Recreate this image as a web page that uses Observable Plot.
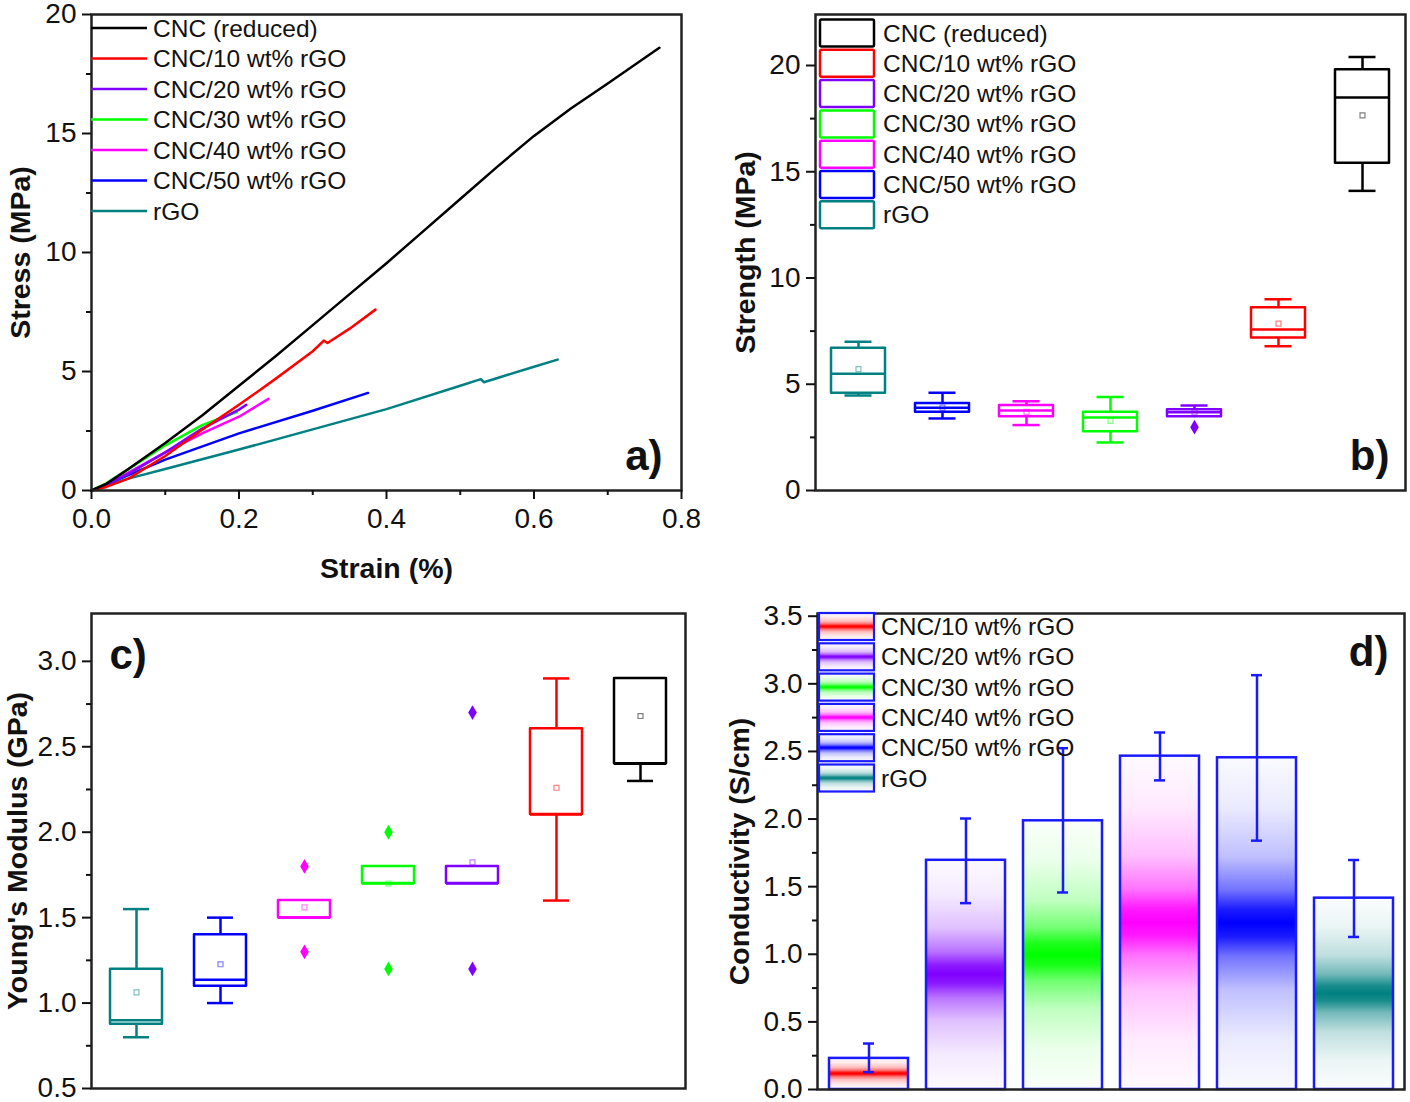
<!DOCTYPE html>
<html><head><meta charset="utf-8">
<script src="https://cdn.jsdelivr.net/npm/d3@7"></script>
<script src="https://cdn.jsdelivr.net/npm/@observablehq/plot@0.6"></script>
<style>
html,body{margin:0;padding:0;background:#fff;overflow:hidden}
#wrap{position:relative;width:1410px;height:1102px;background:#fff}
#wrap > svg{position:absolute}
</style></head><body><div id="wrap"></div>
<script>
const FONT = "'Liberation Sans', Arial, Helvetica, sans-serif";

// ---------- Panel a: stress-strain curves ----------
const seriesNames = ["CNC (reduced)", "CNC/10 wt% rGO", "CNC/20 wt% rGO", "CNC/30 wt% rGO", "CNC/40 wt% rGO", "CNC/50 wt% rGO", "rGO"];
const seriesColors = ["#000000", "#ff0000", "#8000ff", "#00ff00", "#ff00ff", "#0000ff", "#008080"];

const strainCNC = [0, 0.02, 0.05, 0.1, 0.15, 0.2, 0.25, 0.3, 0.35, 0.4, 0.45, 0.5, 0.55, 0.6, 0.65, 0.7, 0.77];
const stressCNC = [0, 0.28, 0.9, 2.0, 3.15, 4.4, 5.65, 6.95, 8.25, 9.55, 10.9, 12.25, 13.6, 14.9, 16.05, 17.1, 18.6];
const strain10 = [0, 0.02, 0.05, 0.1, 0.15, 0.2, 0.25, 0.3, 0.315, 0.32, 0.35, 0.385];
const stress10 = [0, 0.15, 0.5, 1.45, 2.55, 3.6, 4.7, 5.85, 6.3, 6.2, 6.8, 7.6];
const strain20 = [0, 0.02, 0.05, 0.1, 0.15, 0.2, 0.21];
const stress20 = [0, 0.25, 0.7, 1.6, 2.6, 3.4, 3.6];
const strain30 = [0, 0.02, 0.05, 0.1, 0.15, 0.197];
const stress30 = [0, 0.3, 0.9, 1.9, 2.75, 3.3];
const strain40 = [0, 0.02, 0.05, 0.1, 0.15, 0.2, 0.24];
const stress40 = [0, 0.25, 0.75, 1.6, 2.4, 3.1, 3.85];
const strain50 = [0, 0.02, 0.05, 0.1, 0.2, 0.3, 0.375];
const stress50 = [0, 0.25, 0.65, 1.3, 2.4, 3.35, 4.1];
const strainRGO = [0, 0.02, 0.05, 0.1, 0.2, 0.3, 0.4, 0.5, 0.528, 0.532, 0.6, 0.632];
const stressRGO = [0, 0.2, 0.5, 0.9, 1.72, 2.57, 3.42, 4.4, 4.68, 4.55, 5.2, 5.5];

const strainTicks = [0, 0.2, 0.4, 0.6, 0.8];
const strainMinor = [0.1, 0.3, 0.5, 0.7];
const stressTicks = [0, 5, 10, 15, 20];
const stressMinor = [2.5, 7.5, 12.5, 17.5];

// ---------- Panel b: strength box plots ----------
const boxCats = ["rGO", "CNC/50 wt% rGO", "CNC/40 wt% rGO", "CNC/30 wt% rGO", "CNC/20 wt% rGO", "CNC/10 wt% rGO", "CNC (reduced)"];
const boxColors = ["#008080", "#0000ff", "#ff00ff", "#00ff00", "#8000ff", "#ff0000", "#000000"];
const strLo   = [4.47, 3.39, 3.08, 2.26, 3.47, 6.79, 14.1];
const strQ1   = [4.58, 3.68, 3.47, 2.76, 3.47, 7.18, 15.4];
const strMed  = [5.5, 3.9, 3.76, 3.43, 3.68, 7.58, 18.5];
const strQ3   = [6.7, 4.1, 4.0, 3.68, 3.8, 8.6, 19.8];
const strHi   = [7.0, 4.6, 4.2, 4.4, 4.0, 9.0, 20.4];
const strMean = [5.71, 3.9, 3.7, 3.28, 3.68, 7.85, 17.65];
const strOutCat = ["CNC/20 wt% rGO"];
const strOutVal = [2.98];
const strengthTicks = [0, 5, 10, 15, 20];
const strengthMinor = [2.5, 7.5, 12.5, 17.5];

// ---------- Panel c: Young's modulus box plots ----------
const modLo   = [0.8, 1.0, 1.5, 1.7, 1.7, 1.6, 2.3];
const modQ1   = [0.876, 1.098, 1.5, 1.7, 1.7, 2.104, 2.4];
const modMed  = [0.9, 1.136, 1.5, 1.7, 1.7, 2.104, 2.4];
const modQ3   = [1.198, 1.4, 1.6, 1.8, 1.8, 2.605, 2.9];
const modHi   = [1.55, 1.5, 1.6, 1.8, 1.8, 2.9, 2.9];
const modMean = [1.063, 1.227, 1.56, 1.70, 1.824, 2.26, 2.68];
const modOutCat = ["CNC/40 wt% rGO", "CNC/40 wt% rGO", "CNC/30 wt% rGO", "CNC/30 wt% rGO", "CNC/20 wt% rGO", "CNC/20 wt% rGO"];
const modOutVal = [1.8, 1.3, 2.0, 1.2, 2.7, 1.2];
const modTicks = [0.5, 1.0, 1.5, 2.0, 2.5, 3.0];
const modMinor = [0.75, 1.25, 1.75, 2.25, 2.75];

// ---------- Panel d: conductivity bars ----------
const condCats = ["CNC/10 wt% rGO", "CNC/20 wt% rGO", "CNC/30 wt% rGO", "CNC/40 wt% rGO", "CNC/50 wt% rGO", "rGO"];
const condColors = ["#ff0000", "#8000ff", "#00ff00", "#ff00ff", "#0000ff", "#008080"];
const condVal = [0.23, 1.695, 1.987, 2.465, 2.453, 1.415];
const condErrHi = [0.34, 2.004, 2.524, 2.64, 3.064, 1.697];
const condErrLo = [0.128, 1.378, 1.457, 2.286, 1.84, 1.128];
const condTicks = [0, 0.5, 1.0, 1.5, 2.0, 2.5, 3.0, 3.5];
const condMinor = [0.25, 0.75, 1.25, 1.75, 2.25, 2.75, 3.25];

// ================= helpers =================
const wrap = document.getElementById("wrap");
const f1 = d3.format(".1f");
const TICKFS = 28;
const AX = {stroke: "#111", strokeWidth: 2, fontSize: TICKFS, fill: "#111", label: null};
const TITLE = {fontWeight: "bold", fontSize: 28.5, fill: "#111"};
const PANEL = {fontWeight: "bold", fontSize: 42, fill: "#111", lineAnchor: "middle"};
const blank = () => "";

function yAxes(major, minor, fmt) {
  return [
    Plot.axisY(major, {...AX, tickSize: 9, tickFormat: blank}),
    Plot.axisY(minor, {...AX, tickSize: 5, tickFormat: blank}),
    Plot.axisY(major, {...AX, tickSize: 0, tickPadding: 15, tickFormat: fmt})
  ];
}
function xAxes(major, minor, fmt) {
  return [
    Plot.axisX(major, {...AX, tickSize: 9, tickFormat: blank}),
    Plot.axisX(minor, {...AX, tickSize: 5, tickFormat: blank}),
    Plot.axisX(major, {...AX, tickSize: 0, tickPadding: 18, tickFormat: fmt})
  ];
}
function yTitle(t, dx) {
  return Plot.text([t], {...TITLE, frameAnchor: "left", textAnchor: "middle", lineAnchor: "middle", rotate: -90, dx});
}

function place(svg, left, top) {
  svg.style.left = left + "px";
  svg.style.top = top + "px";
  wrap.appendChild(svg);
}

function boxRows(lo, q1, med, q3, hi, mean) {
  return boxCats.map((c, i) => ({cat: c, color: boxColors[i], lo: lo[i], q1: q1[i], med: med[i], q3: q3[i], hi: hi[i], mean: mean[i]}));
}

function boxMarks(rows, outliers, boxInset, capInset) {
  const up = rows.filter(d => d.hi > d.q3);
  const dn = rows.filter(d => d.lo < d.q1);
  const sw = 2.5;
  return [
    Plot.ruleX(up, {x: "cat", y1: "q3", y2: "hi", stroke: "color", strokeWidth: sw}),
    Plot.ruleX(dn, {x: "cat", y1: "lo", y2: "q1", stroke: "color", strokeWidth: sw}),
    Plot.tickY(up, {x: "cat", y: "hi", stroke: "color", strokeWidth: sw, insetLeft: capInset, insetRight: capInset}),
    Plot.tickY(dn, {x: "cat", y: "lo", stroke: "color", strokeWidth: sw, insetLeft: capInset, insetRight: capInset}),
    Plot.barY(rows, {x: "cat", y1: "q1", y2: "q3", fill: "none", stroke: "color", strokeWidth: sw, strokeLinejoin: "round", insetLeft: boxInset, insetRight: boxInset}),
    Plot.tickY(rows, {x: "cat", y: "med", stroke: "color", strokeWidth: sw, insetLeft: boxInset, insetRight: boxInset}),
    Plot.dot(rows, {x: "cat", y: "mean", symbol: "square", r: 2.8, fill: "none", stroke: "color", strokeOpacity: 0.5, strokeWidth: 1.2}),
    Plot.dot(outliers, {x: "cat", y: "v", symbol: "diamond", r: 4.5, fill: "color", stroke: "none"})
  ];
}
function legendGroup(svg) {
  return d3.select(svg).append("g").attr("font-family", FONT).attr("font-size", 24.5).attr("fill", "#111").attr("text-anchor", "start");
}

// ================= Panel a =================
const strains = [strainCNC, strain10, strain20, strain30, strain40, strain50, strainRGO];
const stresses = [stressCNC, stress10, stress20, stress30, stress40, stress50, stressRGO];
const curveOrder = [6, 5, 4, 3, 2, 1, 0];
const curves = curveOrder.flatMap(i => strains[i].map((x, j) => ({series: seriesNames[i], color: seriesColors[i], strain: x, stress: stresses[i][j]})));

const plotA = Plot.plot({
  width: 705, height: 590, marginLeft: 91, marginRight: 24, marginTop: 14, marginBottom: 100,
  style: {fontFamily: FONT, background: "transparent", color: "#111", overflow: "visible"},
  x: {domain: [0, 0.8]}, y: {domain: [0, 20]},
  color: {type: "identity"},
  marks: [
    Plot.line(curves, {x: "strain", y: "stress", z: "series", stroke: "color", strokeWidth: 2.5, strokeLinejoin: "round"}),
    Plot.frame({stroke: "#222", strokeWidth: 2.5}),
    ...xAxes(strainTicks, strainMinor, f1),
    ...yAxes(stressTicks, stressMinor, d3.format("d")),
    Plot.text(["Strain (%)"], {...TITLE, frameAnchor: "bottom", textAnchor: "middle", lineAnchor: "middle", dy: 78}),
    yTitle("Stress (MPa)", -71),
    Plot.text(["a)"], {...PANEL, frameAnchor: "bottom-right", textAnchor: "end", dx: -19, dy: -34})
  ]
});
{
  const g = legendGroup(plotA);
  seriesNames.forEach((n, i) => {
    const y = 28 + i * 30.5;
    g.append("line").attr("x1", 91).attr("x2", 147).attr("y1", y).attr("y2", y).attr("stroke", seriesColors[i]).attr("stroke-width", 2.5);
    g.append("text").attr("x", 153).attr("y", y).attr("dy", "0.35em").text(n);
  });
}
place(plotA, 0, 0);

// ================= Panel b =================
const rowsB = boxRows(strLo, strQ1, strMed, strQ3, strHi, strMean);
const outB = strOutCat.map((c, i) => ({cat: c, v: strOutVal[i], color: boxColors[boxCats.indexOf(c)]}));
const plotB = Plot.plot({
  width: 705, height: 590, marginLeft: 110, marginRight: 5, marginTop: 14, marginBottom: 100,
  style: {fontFamily: FONT, background: "transparent", color: "#111", overflow: "visible"},
  x: {type: "band", domain: boxCats, padding: 0, axis: null},
  y: {domain: [0, 22.4]},
  color: {type: "identity"},
  marks: [
    ...boxMarks(rowsB, outB, 15, 28.5),
    Plot.frame({stroke: "#222", strokeWidth: 2.5}),
    ...yAxes(strengthTicks, strengthMinor, d3.format("d")),
    yTitle("Strength (MPa)", -70),
    Plot.text(["b)"], {...PANEL, frameAnchor: "bottom-right", textAnchor: "end", dx: -16, dy: -34})
  ]
});
{
  const legOrder = ["CNC (reduced)", "CNC/10 wt% rGO", "CNC/20 wt% rGO", "CNC/30 wt% rGO", "CNC/40 wt% rGO", "CNC/50 wt% rGO", "rGO"];
  const g = legendGroup(plotB);
  legOrder.forEach((n, i) => {
    const y = 33 + i * 30.3;
    const col = boxColors[boxCats.indexOf(n)];
    g.append("rect").attr("x", 115).attr("y", y - 13.5).attr("width", 54).attr("height", 27).attr("fill", "none").attr("stroke", col).attr("stroke-width", 2.5).attr("rx", 1.5);
    g.append("text").attr("x", 178).attr("y", y).attr("dy", "0.35em").text(n);
  });
}
place(plotB, 705, 0);

// ================= Panel c =================
const rowsC = boxRows(modLo, modQ1, modMed, modQ3, modHi, modMean);
const outC = modOutCat.map((c, i) => ({cat: c, v: modOutVal[i], color: boxColors[boxCats.indexOf(c)]}));
const plotC = Plot.plot({
  width: 705, height: 512, marginLeft: 91, marginRight: 20, marginTop: 23, marginBottom: 14,
  style: {fontFamily: FONT, background: "transparent", color: "#111", overflow: "visible"},
  x: {type: "band", domain: boxCats, padding: 0, axis: null},
  y: {domain: [0.5, 3.28]},
  color: {type: "identity"},
  marks: [
    ...boxMarks(rowsC, outC, 16, 29),
    Plot.frame({stroke: "#222", strokeWidth: 2.5}),
    ...yAxes(modTicks, modMinor, f1),
    yTitle("Young's Modulus (GPa)", -74),
    Plot.text(["c)"], {...PANEL, frameAnchor: "top-left", textAnchor: "start", dx: 18, dy: 42})
  ]
});
place(plotC, 0, 590);

// ================= Panel d =================
const barRows = condCats.map((c, i) => ({cat: c, v: condVal[i], hi: condErrHi[i], lo: condErrLo[i], fill: `url(#cgrad${i})`}));
const BLUE = "#1a1aff";
const plotD = Plot.plot({
  width: 705, height: 512, marginLeft: 112, marginRight: 6, marginTop: 23, marginBottom: 13,
  style: {fontFamily: FONT, background: "transparent", color: "#111", overflow: "visible"},
  x: {type: "band", domain: condCats, padding: 0, axis: null},
  y: {domain: [0, 3.52]},
  color: {type: "identity"},
  marks: [
    Plot.barY(barRows, {x: "cat", y: "v", fill: "fill", stroke: BLUE, strokeWidth: 2.5, insetLeft: 9, insetRight: 9}),
    Plot.ruleX(barRows, {x: "cat", y1: "lo", y2: "hi", stroke: BLUE, strokeWidth: 2.5}),
    Plot.tickY(barRows, {x: "cat", y: "hi", stroke: BLUE, strokeWidth: 2.5, insetLeft: 43, insetRight: 43}),
    Plot.tickY(barRows, {x: "cat", y: "lo", stroke: BLUE, strokeWidth: 2.5, insetLeft: 43, insetRight: 43}),
    Plot.frame({stroke: "#222", strokeWidth: 2.5}),
    ...yAxes(condTicks, condMinor, f1),
    yTitle("Conductivity (S/cm)", -78),
    Plot.text(["d)"], {...PANEL, frameAnchor: "top-right", textAnchor: "end", dx: -16, dy: 39})
  ]
});
{
  const svg = d3.select(plotD);
  const defs = svg.insert("defs", ":first-child");
  const stops = [[0, 0.02], [0.15, 0.08], [0.3, 0.25], [0.4, 0.55], [0.46, 0.9], [0.5, 1], [0.54, 0.9], [0.6, 0.55], [0.7, 0.25], [0.85, 0.08], [1, 0.02]];
  condColors.forEach((col, i) => {
    const lg = defs.append("linearGradient").attr("id", `cgrad${i}`).attr("x1", 0).attr("y1", 0).attr("x2", 0).attr("y2", 1);
    stops.forEach(([o, a]) => lg.append("stop").attr("offset", o).attr("stop-color", col).attr("stop-opacity", a));
  });
  const g = legendGroup(plotD);
  condCats.forEach((n, i) => {
    const y = 36.5 + i * 30.3;
    g.append("rect").attr("x", 114).attr("y", y - 13.5).attr("width", 55).attr("height", 27).attr("fill", "white").attr("stroke", "none");
    g.append("rect").attr("x", 114).attr("y", y - 13.5).attr("width", 55).attr("height", 27).attr("fill", `url(#cgrad${i})`).attr("stroke", BLUE).attr("stroke-width", 2.2);
    g.append("text").attr("x", 176).attr("y", y).attr("dy", "0.35em").text(n);
  });
}
place(plotD, 705, 590);
</script></body></html>
